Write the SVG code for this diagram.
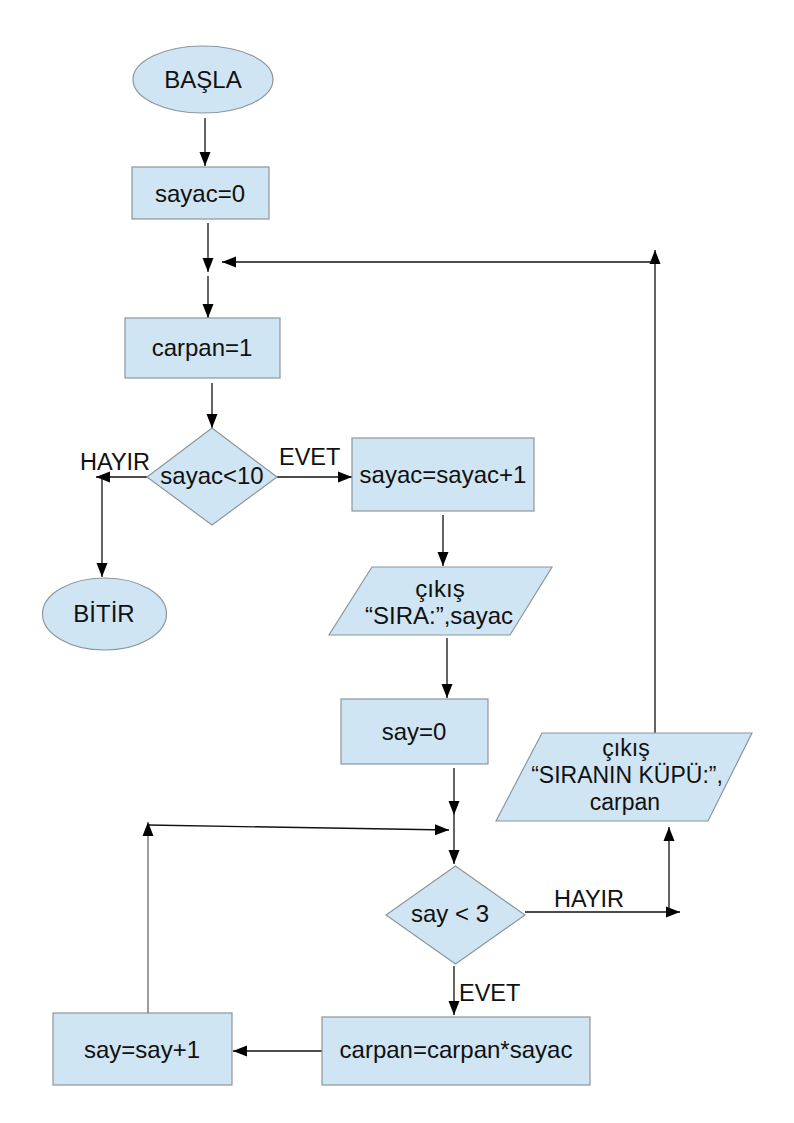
<svg xmlns="http://www.w3.org/2000/svg" width="794" height="1123" viewBox="0 0 794 1123">
<style>
.n{fill:#cfe5f3;stroke:#8c969c;stroke-width:1.2}
.t{font-family:"Liberation Sans",Arial,sans-serif;font-size:24px;fill:#111;text-anchor:middle}
.s{font-size:23px}
.l{font-family:"Liberation Sans",Arial,sans-serif;font-size:23.5px;fill:#111}
.c{fill:none;stroke:#111;stroke-width:1.3}
</style>
<defs>
<marker id="a" markerUnits="userSpaceOnUse" markerWidth="14" markerHeight="12" refX="14" refY="6" orient="auto">
<path d="M0,0.5 L14,6 L0,11.5 z" fill="#000"/>
</marker>
</defs>
<rect width="794" height="1123" fill="#fff"/>
<g id="connectors">
<path class="c" d="M205,118 V166" marker-end="url(#a)"/>
<path class="c" d="M208,223 V272" marker-end="url(#a)"/>
<path class="c" d="M208,276 V318" marker-end="url(#a)"/>
<path class="c" d="M655,733 V250" marker-end="url(#a)"/>
<path class="c" d="M655,262 H222" marker-end="url(#a)"/>
<path class="c" d="M212,383 V428" marker-end="url(#a)"/>
<path class="c" d="M147,477 H96" marker-end="url(#a)"/>
<path class="c" d="M102,477 V577" marker-end="url(#a)"/>
<path class="c" d="M277,477 H352" marker-end="url(#a)"/>
<path class="c" d="M443,515 V566" marker-end="url(#a)"/>
<path class="c" d="M447,638 V698" marker-end="url(#a)"/>
<path class="c" d="M454,768 V815" marker-end="url(#a)"/>
<path class="c" d="M454,815 V864" marker-end="url(#a)"/>
<path class="c" d="M148,825 L449,830" marker-end="url(#a)"/>
<path class="c" d="M148,1013 V822" marker-end="url(#a)" style="stroke:#666"/>
<path class="c" d="M525,912 H680" marker-end="url(#a)"/>
<path class="c" d="M669,912 V827" marker-end="url(#a)"/>
<path class="c" d="M454,966 V1015" marker-end="url(#a)"/>
<path class="c" d="M322,1051 H233" marker-end="url(#a)"/>
</g>
<g id="baslangic">
<ellipse class="n" cx="203" cy="79.5" rx="70" ry="33.5"/>
<text class="t" x="203" y="87.5">BAŞLA</text>
</g>
<g id="sayac0">
<rect class="n" x="132" y="167" width="137" height="52"/>
<text class="t" x="200" y="202">sayac=0</text>
</g>
<g id="carpan1">
<rect class="n" x="125" y="318" width="155" height="60"/>
<text class="t" x="202" y="356">carpan=1</text>
</g>
<g id="kosul1">
<polygon class="n" points="212,428 277,477 212,525 147,477"/>
<text class="t" x="212" y="484">sayac&lt;10</text>
</g>
<g id="label-hayir1"><text class="l" x="80" y="470">HAYIR</text></g>
<g id="label-evet1"><text class="l" x="279" y="465">EVET</text></g>
<g id="bitir">
<ellipse class="n" cx="104.5" cy="614" rx="62" ry="36"/>
<text class="t" x="104" y="622">BİTİR</text>
</g>
<g id="sayacart">
<rect class="n" x="352" y="438" width="182" height="73"/>
<text class="t" x="443" y="483">sayac=sayac+1</text>
</g>
<g id="cikis1">
<polygon class="n" points="372,567 552,567 510,635 329,635"/>
<text class="t" x="440" y="597">çıkış</text>
<text class="t" x="439" y="624">“SIRA:”,sayac</text>
</g>
<g id="say0">
<rect class="n" x="341" y="699" width="147" height="65"/>
<text class="t" x="414" y="740">say=0</text>
</g>
<g id="kosul2">
<polygon class="n" points="455.5,866 525,915 455.5,964 386,915"/>
<text class="t" x="450" y="922">say &lt; 3</text>
</g>
<g id="label-hayir2"><text class="l" x="554" y="907">HAYIR</text></g>
<g id="label-evet2"><text class="l" x="459" y="1001">EVET</text></g>
<g id="cikis2">
<polygon class="n" points="542,733 752,733 708,821 496,821"/>
<text class="t s" x="626" y="756">çıkış</text>
<text class="t s" x="627" y="783">“SIRANIN KÜPÜ:”,</text>
<text class="t s" x="625" y="810">carpan</text>
</g>
<g id="carpanart">
<rect class="n" x="322" y="1017" width="268" height="68"/>
<text class="t" x="456" y="1058">carpan=carpan*sayac</text>
</g>
<g id="sayart">
<rect class="n" x="53" y="1013" width="179" height="72"/>
<text class="t" x="142" y="1058">say=say+1</text>
</g>
</svg>
